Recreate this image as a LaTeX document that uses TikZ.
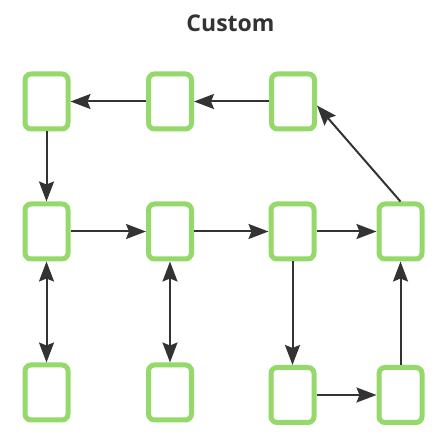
\documentclass[tikz,border=0pt]{standalone}
\usepackage{fontspec}
\setsansfont{Open Sans}
\usetikzlibrary{arrows.meta}
\definecolor{boxgreen}{HTML}{95D96A}
\definecolor{linkgray}{HTML}{333333}
\begin{document}
\begin{tikzpicture}[x=1pt,y=-1pt,
    blk/.style={draw=boxgreen, fill=white, line width=5pt, rounded corners=6pt,
      minimum width=43pt, minimum height=55pt, inner sep=0pt},
    link/.style={draw=linkgray, line width=2pt, -{Stealth[length=20pt,width=15pt,inset=3pt]}},
    twoway/.style={draw=linkgray, line width=2pt,
      {Stealth[length=20pt,width=15pt,inset=3pt]}-{Stealth[length=20pt,width=15pt,inset=3pt]}}]
  \useasboundingbox (0,0) rectangle (448,441);
  \node[anchor=base, text=linkgray, font=\sffamily\bfseries\fontsize{23}{27}\selectfont] (title) at (230.5,32) {Custom};
  % top row
  \node[blk] (b11) at (46.5,101.5) {};
  \node[blk] (b12) at (170,101.5) {};
  \node[blk] (b13) at (293,101.5) {};
  % middle row
  \node[blk] (b21) at (46.5,231.5) {};
  \node[blk] (b22) at (170,231.5) {};
  \node[blk] (b23) at (292.5,231.5) {};
  \node[blk] (b24) at (400.5,231.5) {};
  % bottom row
  \node[blk] (b31) at (46.5,392.5) {};
  \node[blk] (b32) at (170,392.5) {};
  \node[blk] (b33) at (292.5,395) {};
  \node[blk] (b34) at (400.5,395) {};
  \draw[link] (b12) -- (b11);
  \draw[link] (b13) -- (b12);
  \draw[link] (b11) -- (b21);
  \draw[link] (b21) -- (b22);
  \draw[link] (b22) -- (b23);
  \draw[link] (b23) -- (b24);
  \draw[twoway] (b21) -- (b31);
  \draw[twoway] (b22) -- (b32);
  \draw[link] (b23) -- (b23 |- b33.north);
  \draw[link] (b33) -- (b34);
  \draw[link] (b34) -- (b24);
  \draw[link] (b24.north) -- ([yshift=-4pt]b13.east);
\end{tikzpicture}
\end{document}
